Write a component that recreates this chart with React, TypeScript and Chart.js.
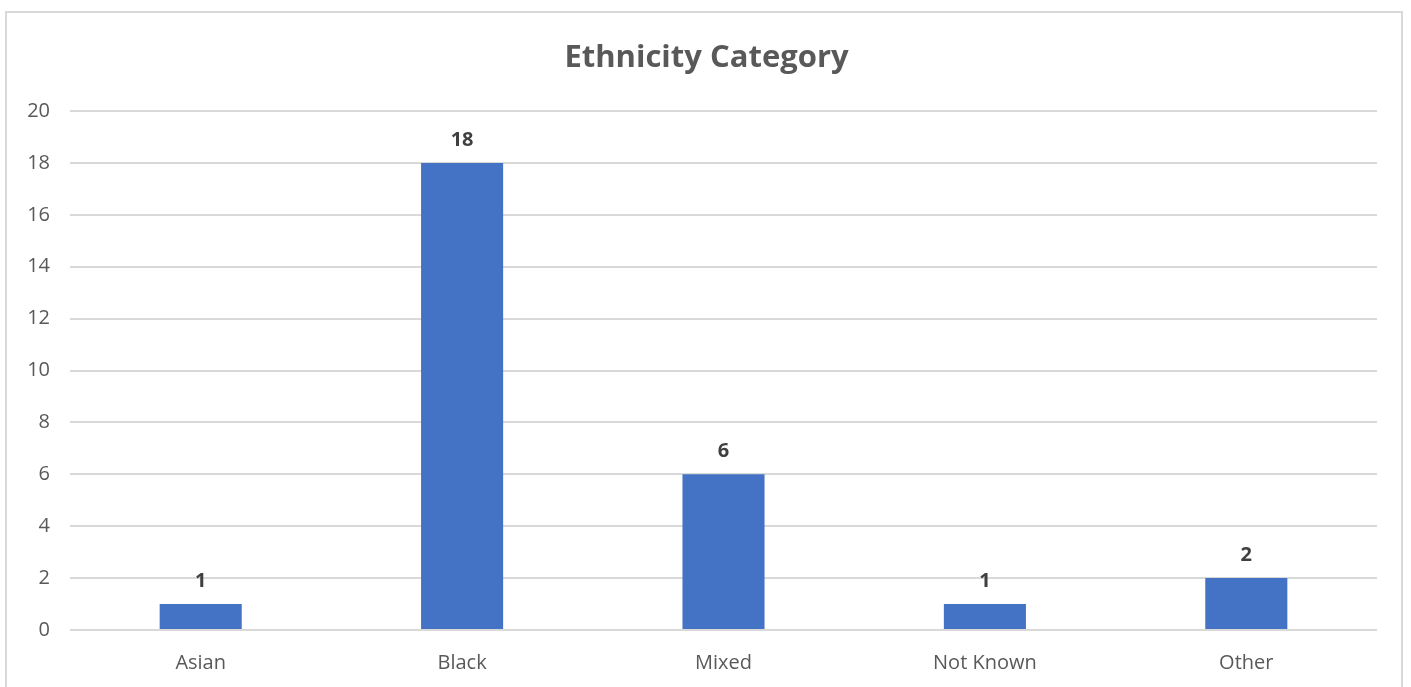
import React, { useEffect, useRef } from "react";
import { Chart, registerables } from "chart.js";

Chart.register(...registerables);

const categories = ["Asian", "Black", "Mixed", "Not Known", "Other"];
const counts = [1, 18, 6, 1, 2];
const titleText = "Ethnicity Category";
const FONT = "'Open Sans', 'Noto Sans', sans-serif";

const dataLabels = {
  id: "dataLabels",
  afterDatasetsDraw(chart: any) {
    const ctx = chart.ctx;
    const meta = chart.getDatasetMeta(0);
    ctx.save();
    ctx.font = `bold 20px ${FONT}`;
    ctx.fillStyle = "#404040";
    ctx.textAlign = "center";
    ctx.textBaseline = "middle";
    meta.data.forEach((bar: any, i: number) => {
      ctx.fillText(String(chart.data.datasets[0].data[i]), bar.x, bar.y - 23);
    });
    ctx.restore();
  },
};

const centeredTitle = {
  id: "centeredTitle",
  afterDraw(chart: any) {
    const ctx = chart.ctx;
    ctx.save();
    ctx.font = `bold 31px ${FONT}`;
    ctx.fillStyle = "#595959";
    ctx.textAlign = "center";
    ctx.textBaseline = "middle";
    ctx.fillText(titleText, chart.width / 2 + 1, 58);
    ctx.restore();
  },
};

export default function App() {
  const ref = useRef<HTMLCanvasElement>(null);
  useEffect(() => {
    if (!ref.current) return;
    const chart = new Chart(ref.current, {
      type: "bar",
      data: {
        labels: categories,
        datasets: [
          {
            data: counts,
            backgroundColor: "#4472C4",
            categoryPercentage: 1,
            barPercentage: 0.314,
          },
        ],
      },
      options: {
        animation: false,
        responsive: false,
        layout: { padding: { left: 0, right: 34, top: 111, bottom: 0 } },
        plugins: {
          legend: { display: false },
          tooltip: { enabled: false },
          title: { display: false },
        },
        scales: {
          x: {
            grid: { display: false },
            border: { display: false },
            ticks: { color: "#595959", font: { family: FONT, size: 20 }, padding: 13 },
            afterFit(scale: any) {
              scale.height = 57;
            },
          },
          y: {
            min: 0,
            max: 20,
            ticks: { stepSize: 2, color: "#595959", font: { family: FONT, size: 20 }, padding: 20 },
            grid: { color: "#d9d9d9", lineWidth: 2, drawTicks: false },
            border: { display: false },
            afterFit(scale: any) {
              scale.width = 70;
            },
          },
        },
      },
      plugins: [dataLabels, centeredTitle],
    });
    return () => chart.destroy();
  }, []);
  return (
    <div style={{ position: "fixed", left: 0, top: 0, width: 1411, height: 687, background: "#fff", overflow: "hidden" }}>
      <div
        style={{
          position: "absolute",
          left: 5,
          top: 11,
          width: 1398,
          height: 720,
          border: "2px solid #d9d9d9",
          boxSizing: "border-box",
        }}
      />
      <canvas ref={ref} width={1411} height={687} style={{ position: "absolute", left: 0, top: 0, width: 1411, height: 687 }} />
    </div>
  );
}
